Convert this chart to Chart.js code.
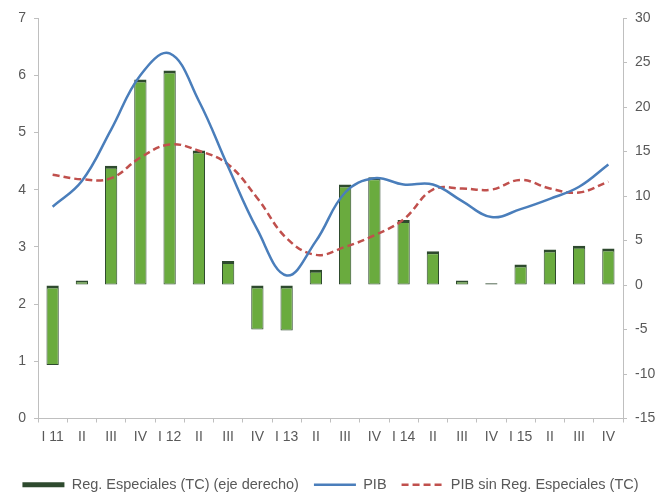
<!DOCTYPE html>
<html>
<head>
<meta charset="utf-8">
<script src="https://cdn.jsdelivr.net/npm/chart.js@4/dist/chart.umd.min.js"></script>
<style>
  html, body { margin: 0; padding: 0; background: #fff; }
  #wrap { width: 659px; height: 493px; }
</style>
</head>
<body>
<div id="wrap"><canvas id="chart-pib"></canvas></div>
<script>
// Trimestres 2011-2015
const trimestres = ['I 11', 'II', 'III', 'IV', 'I 12', 'II', 'III', 'IV', 'I 13', 'II',
                    'III', 'IV', 'I 14', 'II', 'III', 'IV', 'I 15', 'II', 'III', 'IV'];

// Reg. Especiales (TC), eje derecho
const regEspeciales = [-9.0, 0.5, 13.4, 23.1, 24.1, 15.1, 2.7, -5.0, -5.1, 1.7,
                       11.3, 12.1, 7.3, 3.8, 0.5, 0.2, 2.3, 4.0, 4.4, 4.1];

// PIB, eje izquierdo
const pib = [3.7, 4.15, 5.05, 6.0, 6.38, 5.55, 4.4, 3.3, 2.5, 3.1,
             3.95, 4.2, 4.09, 4.09, 3.8, 3.52, 3.66, 3.84, 4.05, 4.44];

// PIB sin Reg. Especiales (TC), eje izquierdo
const pibSinReg = [4.26, 4.18, 4.2, 4.56, 4.79, 4.68, 4.44, 3.85, 3.15, 2.86,
                   3.0, 3.2, 3.48, 4.0, 4.02, 4.0, 4.17, 4.02, 3.95, 4.14];

const ticksIzq = [0, 7, 1];
const ticksDer = [-15, 30, 5];

const fuente = "'Liberation Sans', Arial, sans-serif";
const gris = '#595959';
const ejeColor = '#bfbfbf';

// baja un poco la leyenda, como en el original
const bajarLeyenda = {
    id: 'bajarLeyenda',
    afterLayout(chart) {
        const l = chart.legend;
        if (!l) return;
        l.top += 9;
        l.bottom += 9;
    }
};

let charts = {};

function renderPibChart() {
    const ctx = document.getElementById('chart-pib').getContext('2d');

    charts.pib = new Chart(ctx, {
        type: 'bar',
        data: {
            labels: trimestres,
            datasets: [
                {
                    type: 'bar',
                    label: 'Reg. Especiales (TC) (eje derecho)',
                    data: regEspeciales,
                    yAxisID: 'yDer',
                    backgroundColor: '#6aab3e',
                    borderColor: '#2e4a2e',
                    borderWidth: { top: 3, left: 1, right: 1, bottom: 1 },
                    borderSkipped: false,
                    barPercentage: 0.42,
                    categoryPercentage: 1,
                    order: 3
                },
                {
                    type: 'line',
                    label: 'PIB',
                    data: pib,
                    yAxisID: 'yIzq',
                    borderColor: '#4a7ebb',
                    borderWidth: 2.5,
                    pointRadius: 0,
                    tension: 0.4,
                    fill: false,
                    order: 1
                },
                {
                    type: 'line',
                    label: 'PIB sin Reg. Especiales (TC)',
                    data: pibSinReg,
                    yAxisID: 'yIzq',
                    borderColor: '#c0504d',
                    borderWidth: 2.5,
                    borderDash: [7, 4],
                    pointRadius: 0,
                    tension: 0.4,
                    fill: false,
                    order: 2
                }
            ]
        },
        options: {
            responsive: true,
            maintainAspectRatio: false,
            animation: false,
            layout: { padding: { top: 18, right: 2, left: 4, bottom: 0 } },
            plugins: {
                tooltip: { enabled: false },
                legend: {
                    position: 'bottom',
                    labels: {
                        color: gris,
                        font: { family: fuente, size: 14.5 },
                        usePointStyle: true,
                        pointStyleWidth: 42,
                        boxHeight: 5,
                        padding: 15,
                        generateLabels: (chart) => chart.data.datasets.map((ds, i) => ({
                            text: ds.label,
                            datasetIndex: i,
                            fillStyle: ds.type === 'bar' ? '#2e4a2e' : ds.borderColor,
                            strokeStyle: ds.type === 'bar' ? '#2e4a2e' : ds.borderColor,
                            lineWidth: ds.type === 'bar' ? 0 : 2.5,
                            lineDash: ds.borderDash || [],
                            pointStyle: ds.type === 'bar' ? 'rect' : 'line',
                            fontColor: gris,
                            hidden: false
                        }))
                    }
                }
            },
            scales: {
                x: {
                    offset: true,
                    grid: {
                        offset: true,
                        drawOnChartArea: false,
                        color: ejeColor,
                        tickLength: 4
                    },
                    border: { color: ejeColor },
                    ticks: {
                        color: gris,
                        font: { family: fuente, size: 14 },
                        maxRotation: 0,
                        autoSkip: false,
                        padding: 6
                    },
                    afterFit: (axis) => { axis.height = 35; }
                },
                yIzq: {
                    position: 'left',
                    min: ticksIzq[0],
                    max: ticksIzq[1],
                    ticks: {
                        stepSize: ticksIzq[2],
                        color: gris,
                        font: { family: fuente, size: 14 },
                        padding: 8
                    },
                    grid: { drawOnChartArea: false, color: ejeColor, tickLength: 4 },
                    border: { color: ejeColor },
                    afterFit: (axis) => { axis.width = 34; }
                },
                yDer: {
                    position: 'right',
                    min: ticksDer[0],
                    max: ticksDer[1],
                    ticks: {
                        stepSize: ticksDer[2],
                        color: gris,
                        font: { family: fuente, size: 14 },
                        padding: 8
                    },
                    grid: { drawOnChartArea: false, color: ejeColor, tickLength: 4 },
                    border: { color: ejeColor },
                    afterFit: (axis) => { axis.width = 34; }
                }
            }
        },
        plugins: [bajarLeyenda]
    });
}

renderPibChart();
</script>
</body>
</html>
